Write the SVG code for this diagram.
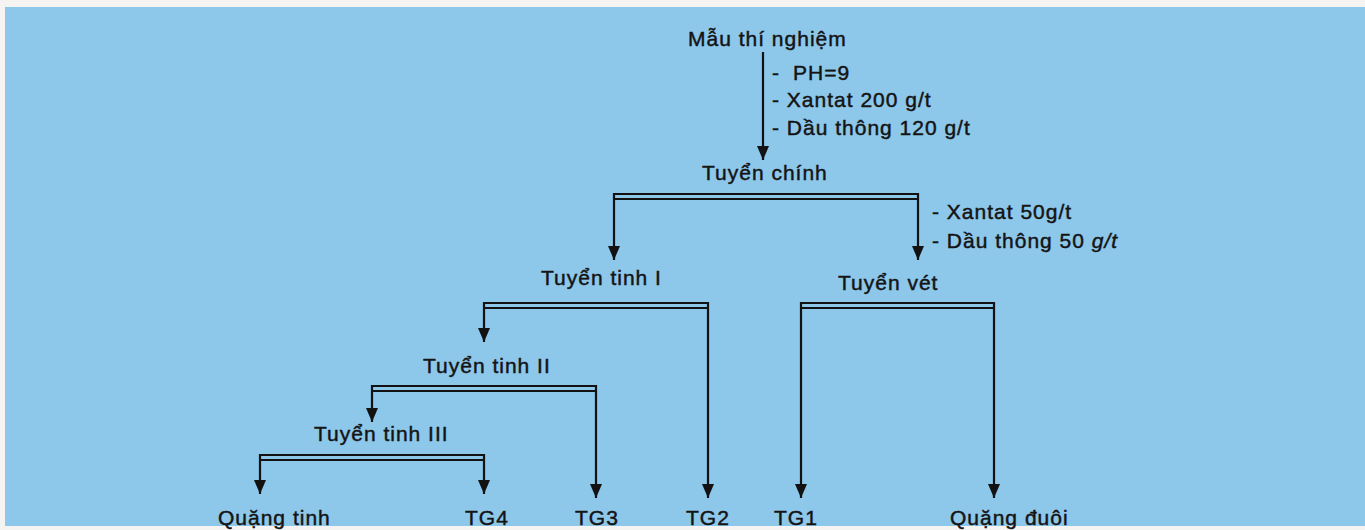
<svg xmlns="http://www.w3.org/2000/svg" width="1365" height="530" viewBox="0 0 1365 530">
  <style>
    .lbl { font-family: "Liberation Sans", Arial, sans-serif; font-size: 21px; fill: #141414; stroke: #141414; stroke-width: 0.45; letter-spacing: 1px; }
    .ln { fill: none; stroke: #121212; stroke-width: 2.2; }
    .arr { fill: none; stroke: #121212; stroke-width: 2.2; marker-end: url(#head); }
  </style>
  <defs>
    <marker id="head" markerUnits="userSpaceOnUse" markerWidth="15" markerHeight="14" viewBox="0 0 15 14" refX="14" refY="7" orient="auto">
      <path d="M0,1 L14,7 L0,13 z" fill="#121212"/>
    </marker>
  </defs>

  <!-- paper -->
  <rect x="0" y="0" width="1365" height="530" fill="#f6f4f2"/>
  <rect x="5" y="7" width="1360" height="519" fill="#8dc7ea"/>

  <!-- flow connectors -->
  <g id="connectors">
    <!-- sample to main flotation -->
    <path class="arr" d="M763,52 V160"/>
    <!-- main flotation split -->
    <path class="arr" d="M766,194 H614 V260"/>
    <path class="arr" d="M766,194 H918 V260"/>
    <path class="ln" d="M614,199 H918"/>
    <!-- cleaner I split -->
    <path class="arr" d="M600,303 H484 V342"/>
    <path class="arr" d="M600,303 H708 V498"/>
    <path class="ln" d="M484,308 H708"/>
    <!-- scavenger split -->
    <path class="arr" d="M900,303 H801 V498"/>
    <path class="arr" d="M900,303 H994 V498"/>
    <path class="ln" d="M801,308 H994"/>
    <!-- cleaner II split -->
    <path class="arr" d="M480,386 H372 V422"/>
    <path class="arr" d="M480,386 H596 V498"/>
    <path class="ln" d="M372,391 H596"/>
    <!-- cleaner III split -->
    <path class="arr" d="M370,455 H260 V494"/>
    <path class="arr" d="M370,455 H484 V494"/>
    <path class="ln" d="M260,460 H484"/>
  </g>

  <g id="sample"><text class="lbl" x="688" y="46">Mẫu thí nghiệm</text></g>
  <g id="reagents-main">
    <text class="lbl" x="772" y="80">-<tspan x="793">PH=9</tspan></text>
    <text class="lbl" x="772" y="107">- Xantat 200 g/t</text>
    <text class="lbl" x="772" y="135">- Dầu thông 120 g/t</text>
  </g>
  <g id="main-flotation"><text class="lbl" x="702" y="180">Tuyển chính</text></g>
  <g id="reagents-scavenger">
    <text class="lbl" x="932" y="219">- Xantat 50g/t</text>
    <text class="lbl" x="932" y="248">- Dầu thông 50 <tspan font-style="italic">g/t</tspan></text>
  </g>
  <g id="cleaner-1"><text class="lbl" x="541" y="285">Tuyển tinh I</text></g>
  <g id="scavenger"><text class="lbl" x="838" y="290">Tuyển vét</text></g>
  <g id="cleaner-2"><text class="lbl" x="423" y="373">Tuyển tinh II</text></g>
  <g id="cleaner-3"><text class="lbl" x="314" y="441">Tuyển tinh III</text></g>
  <g id="concentrate"><text class="lbl" x="218" y="525">Quặng tinh</text></g>
  <g id="tg4"><text class="lbl" x="465" y="525">TG4</text></g>
  <g id="tg3"><text class="lbl" x="575" y="525">TG3</text></g>
  <g id="tg2"><text class="lbl" x="686" y="525">TG2</text></g>
  <g id="tg1"><text class="lbl" x="774" y="525">TG1</text></g>
  <g id="tailings"><text class="lbl" x="950" y="525">Quặng đuôi</text></g>
</svg>
